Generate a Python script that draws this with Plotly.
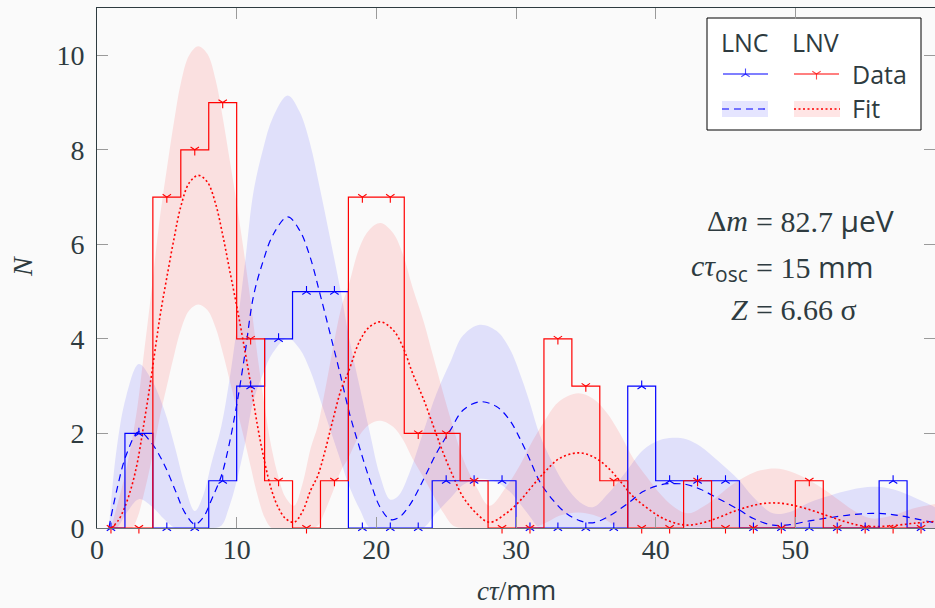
import plotly.graph_objects as go

# ---------------- data ----------------
bin_centers = [1, 3, 5, 7, 9, 11, 13, 15, 17, 19, 21, 23, 25, 27, 29,
               31, 33, 35, 37, 39, 41, 43, 45, 47, 49, 51, 53, 55, 57, 59]
lnc_counts = [0, 2, 0, 0, 1, 3, 4, 5, 5, 0, 0, 0, 1, 1, 1,
              0, 0, 0, 0, 3, 1, 1, 1, 0, 0, 0, 0, 0, 1, 0]
lnv_counts = [0, 0, 7, 8, 9, 4, 1, 0, 1, 7, 7, 2, 2, 1, 0,
              0, 4, 3, 1, 0, 0, 1, 0, 0, 0, 1, 0, 0, 0, 0]

lnc_fit_x = [0.85, 1.4, 2.1, 3.0, 3.9, 4.8, 5.6, 6.3, 7.0, 7.6, 8.2, 8.9, 9.45, 10.0,
             10.6, 11.2, 11.9, 12.6, 13.65, 14.5, 15.25, 15.95, 16.7, 17.4, 18.1, 18.8,
             19.55, 20.25, 21.0, 21.6, 22.4, 23.35, 24.3, 25.3, 26.2, 27.4, 28.6, 29.55,
             30.4, 31.0, 31.7, 32.65, 33.6, 34.6, 35.5, 36.6, 38.0, 39.1, 40.3, 41.2,
             42.2, 43.2, 44.5, 46.0, 47.0, 48.4, 49.6, 51.0, 52.5, 54.0, 55.5, 56.5,
             57.5, 59.0, 60.0]
lnc_fit = [0.00, 0.78, 1.55, 2.04, 1.80, 1.35, 0.80, 0.32, 0.08, 0.22, 0.60, 1.10, 1.75, 2.60,
           3.70, 4.90, 5.65, 6.20, 6.58, 6.30, 5.74, 4.97, 4.10, 3.27, 2.40, 1.70,
           1.00, 0.45, 0.18, 0.22, 0.49, 1.01, 1.58, 2.07, 2.49, 2.67, 2.57, 2.28,
           1.82, 1.44, 0.98, 0.59, 0.31, 0.15, 0.11, 0.24, 0.52, 0.77, 0.91, 0.94,
           0.92, 0.82, 0.62, 0.38, 0.20, 0.06, 0.07, 0.15, 0.22, 0.28, 0.31, 0.30,
           0.26, 0.17, 0.11]
lnc_band_hi = [0.00, 1.66, 2.80, 3.47, 3.14, 2.51, 1.69, 0.89, 0.36, 0.69, 1.38, 2.15, 3.07, 4.21,
               5.62, 7.11, 8.03, 8.69, 9.15, 8.81, 8.14, 7.20, 6.12, 5.08, 3.95, 3.00,
               2.00, 1.12, 0.60, 0.69, 1.19, 2.02, 2.84, 3.51, 4.07, 4.30, 4.17, 3.79,
               3.17, 2.64, 1.97, 1.36, 0.87, 0.54, 0.44, 0.73, 1.24, 1.65, 1.86, 1.91,
               1.88, 1.73, 1.41, 1.00, 0.65, 0.31, 0.34, 0.54, 0.69, 0.81, 0.87, 0.85,
               0.77, 0.58, 0.44]
lnc_band_lo = [0.00, 0.00, 0.31, 0.61, 0.46, 0.19, 0.00, 0.00, 0.00, 0.00, 0.00, 0.05, 0.43, 0.99,
               1.78, 2.69, 3.27, 3.71, 4.02, 3.79, 3.34, 2.74, 2.08, 1.46, 0.85, 0.40,
               0.00, 0.00, 0.00, 0.00, 0.00, 0.00, 0.32, 0.63, 0.91, 1.04, 0.97, 0.77,
               0.47, 0.24, 0.00, 0.00, 0.00, 0.00, 0.00, 0.00, 0.00, 0.00, 0.00, 0.00,
               0.00, 0.00, 0.00, 0.00, 0.00, 0.00, 0.00, 0.00, 0.00, 0.00, 0.00, 0.00,
               0.00, 0.00, 0.00]

lnv_fit_x = [1.0, 1.5, 2.0, 2.5, 2.9, 3.3, 3.8, 4.2, 4.55, 5.0, 5.5, 6.0, 6.6, 7.25,
             7.9, 8.5, 9.0, 9.5, 10.0, 10.5, 11.0, 11.5, 12.0, 12.5, 13.0, 13.5, 14.1,
             14.7, 15.3, 15.8, 16.3, 16.9, 17.5, 18.0, 18.8, 19.5, 20.3, 21.2, 21.9,
             22.6, 23.4, 24.1, 24.8, 25.5, 26.2, 27.2, 28.1, 29.3, 30.3, 31.2, 32.2,
             33.1, 34.45, 35.5, 36.5, 37.4, 38.4, 39.4, 40.3, 41.2, 42.3, 43.5, 44.5,
             45.5, 46.5, 47.5, 48.6, 49.7, 51.0, 52.2, 53.5, 54.5, 55.5, 57.0, 58.5, 60.0]
lnv_fit = [0.00, 0.15, 0.45, 0.90, 1.40, 2.10, 3.03, 3.85, 4.55, 5.30, 6.10, 6.80, 7.30, 7.46,
           7.32, 6.85, 6.20, 5.45, 4.70, 3.90, 3.05, 2.15, 1.40, 0.80, 0.42, 0.20, 0.12,
           0.34, 0.80, 1.10, 1.60, 2.30, 2.95, 3.30, 3.95, 4.25, 4.36, 4.19, 3.83,
           3.27, 2.71, 2.14, 1.58, 1.09, 0.66, 0.30, 0.12, 0.31, 0.58, 0.90, 1.23,
           1.47, 1.59, 1.51, 1.30, 1.01, 0.66, 0.42, 0.24, 0.12, 0.06, 0.12, 0.22,
           0.34, 0.44, 0.51, 0.53, 0.49, 0.39, 0.27, 0.14, 0.06, 0.03, 0.05, 0.10, 0.14]
lnv_band_hi = [0.00, 0.54, 1.12, 1.85, 2.58, 3.55, 4.77, 5.81, 6.68, 7.60, 8.57, 9.41, 10.00, 10.19,
               10.03, 9.47, 8.69, 7.79, 6.87, 5.88, 4.80, 3.62, 2.58, 1.69, 1.07, 0.65, 0.47,
               0.92, 1.69, 2.15, 2.87, 3.82, 4.67, 5.12, 5.94, 6.31, 6.45, 6.24, 5.79,
               5.08, 4.36, 3.60, 2.84, 2.13, 1.47, 0.85, 0.47, 0.87, 1.34, 1.85, 2.34,
               2.68, 2.85, 2.74, 2.44, 2.02, 1.47, 1.07, 0.73, 0.47, 0.31, 0.47, 0.69,
               0.92, 1.10, 1.22, 1.26, 1.19, 1.01, 0.79, 0.51, 0.31, 0.20, 0.27, 0.42, 0.51]
lnv_band_lo = [0.00, 0.00, 0.00, 0.00, 0.22, 0.65, 1.29, 1.89, 2.42, 3.00, 3.63, 4.19, 4.60, 4.73,
               4.61, 4.23, 3.71, 3.12, 2.53, 1.93, 1.30, 0.68, 0.22, 0.00, 0.00, 0.00, 0.00,
               0.00, 0.00, 0.05, 0.34, 0.78, 1.23, 1.48, 1.96, 2.19, 2.27, 2.14, 1.87,
               1.46, 1.06, 0.68, 0.32, 0.05, 0.00, 0.00, 0.00, 0.00, 0.00, 0.00, 0.12,
               0.26, 0.33, 0.28, 0.16, 0.00, 0.00, 0.00, 0.00, 0.00, 0.00, 0.00, 0.00,
               0.00, 0.00, 0.00, 0.00, 0.00, 0.00, 0.00, 0.00, 0.00, 0.00, 0.00, 0.00, 0.00]

x_ticks = [0, 10, 20, 30, 40, 50]
y_ticks = [0, 2, 4, 6, 8, 10]
x_range = [0, 60]
y_range = [0, 11]

# ---------------- style ----------------
W, H = 935, 608
L, R, T, B = 97, 935, 8, 528
BG = "#fafafa"
TXT = "#2e3b40"
BLUE = "#0000ff"
RED = "#ff0000"
BLUE_FILL = "rgba(0,0,255,0.10)"
RED_FILL = "rgba(255,0,0,0.10)"
SERIF = "Liberation Serif"
SANS = "Open Sans"


def px(xp):
    return (xp - L) / (R - L)


def py(yp):
    return (B - yp) / (B - T)


fig = go.Figure()

# bands
fig.add_trace(go.Scatter(x=lnc_fit_x, y=lnc_band_lo, mode="lines", line=dict(width=0, shape="spline"),
                         hoverinfo="skip", showlegend=False))
fig.add_trace(go.Scatter(x=lnc_fit_x, y=lnc_band_hi, mode="lines", line=dict(width=0, shape="spline"),
                         fill="tonexty", fillcolor=BLUE_FILL, hoverinfo="skip", showlegend=False))
fig.add_trace(go.Scatter(x=lnv_fit_x, y=lnv_band_lo, mode="lines", line=dict(width=0, shape="spline"),
                         hoverinfo="skip", showlegend=False))
fig.add_trace(go.Scatter(x=lnv_fit_x, y=lnv_band_hi, mode="lines", line=dict(width=0, shape="spline"),
                         fill="tonexty", fillcolor=RED_FILL, hoverinfo="skip", showlegend=False))

# fits
fig.add_trace(go.Scatter(x=lnc_fit_x, y=lnc_fit, mode="lines",
                         line=dict(color=BLUE, width=1.2, dash="7px,5px", shape="spline"),
                         showlegend=False))
fig.add_trace(go.Scatter(x=lnv_fit_x, y=lnv_fit, mode="lines",
                         line=dict(color=RED, width=1.6, dash="2px,2.5px", shape="spline"),
                         showlegend=False))

# data steps
fig.add_trace(go.Scatter(x=bin_centers, y=lnc_counts, mode="lines+markers",
                         line=dict(color=BLUE, width=1.2, shape="hvh"),
                         marker=dict(symbol="y-up", size=7, line=dict(color=BLUE, width=1.1)),
                         cliponaxis=False, showlegend=False))
fig.add_trace(go.Scatter(x=bin_centers, y=lnv_counts, mode="lines+markers",
                         line=dict(color=RED, width=1.2, shape="hvh"),
                         marker=dict(symbol="y-down", size=7, line=dict(color=RED, width=1.1)),
                         cliponaxis=False, showlegend=False))

# mirrored-tick axes (empty trace to create subplot)
fig.add_trace(go.Scatter(x=[None], y=[None], xaxis="x2", yaxis="y2", showlegend=False, hoverinfo="skip"))

# ---- custom legend on an overlay axis pair spanning the plot area (0..1) ----
lx = dict(xaxis="x3", yaxis="y3", showlegend=False, hoverinfo="skip")
bx0, bx1, by0, by1 = px(707), px(921), py(130), py(18)
fig.add_trace(go.Scatter(x=[bx0, bx1, bx1, bx0, bx0], y=[by0, by0, by1, by1, by0], mode="lines",
                         fill="toself", fillcolor="#ffffff", line=dict(color="#000000", width=1), **lx))
for xa, xb, col in [(722, 768, BLUE_FILL), (794, 840, RED_FILL)]:
    fig.add_trace(go.Scatter(x=[px(xa), px(xb), px(xb), px(xa), px(xa)],
                             y=[py(117), py(117), py(101), py(101), py(117)], mode="lines",
                             fill="toself", fillcolor=col, line=dict(width=0), **lx))
fig.add_trace(go.Scatter(x=[px(722), px(768)], y=[py(109), py(109)], mode="lines",
                         line=dict(color=BLUE, width=1.2, dash="7px,5px"), **lx))
fig.add_trace(go.Scatter(x=[px(794), px(840)], y=[py(109), py(109)], mode="lines",
                         line=dict(color=RED, width=1.6, dash="2px,2.5px"), **lx))
fig.add_trace(go.Scatter(x=[px(723), px(745.5), px(768)], y=[py(74)] * 3, mode="lines+markers",
                         line=dict(color=BLUE, width=1.2),
                         marker=dict(symbol="y-up", size=[0, 7, 0], line=dict(color=BLUE, width=1.1)), **lx))
fig.add_trace(go.Scatter(x=[px(794), px(816.5), px(839)], y=[py(74)] * 3, mode="lines+markers",
                         line=dict(color=RED, width=1.2),
                         marker=dict(symbol="y-down", size=[0, 7, 0], line=dict(color=RED, width=1.1)), **lx))

annotations = []


def ann(text, xp, yp, xanchor="left", size=25, family=SANS, **kw):
    annotations.append(dict(text=text, x=px(xp), y=py(yp), xref="paper", yref="paper",
                            xanchor=xanchor, yanchor="middle", showarrow=False,
                            font=dict(family=family, size=size, color=TXT), **kw))


# legend texts
ann("LNC", 719, 42)
ann("LNV", 790, 42)
ann("Data", 850, 74)
ann("Fit", 850, 108)

# parameter box
S = "<span style='font-family:%s'>%s</span>"
ann("Δ<i>m</i>", 750, 220, xanchor="right", size=30, family=SERIF)
ann("= 82.7 " + S % (SANS, "μeV"), 754, 220, size=30, family=SERIF)
ann("<i>cτ</i>" + S % (SANS, "<sub>osc</sub>"), 750, 268, xanchor="right", size=30, family=SERIF)
ann("= 15 " + S % (SANS, "mm"), 754, 266, size=30, family=SERIF)
ann("<i>Z</i>", 750, 310, xanchor="right", size=30, family=SERIF)
ann("= 6.66 σ", 754, 310, size=30, family=SERIF)

# axis titles
ann("<i>cτ</i>/" + S % (SANS, "mm"), 516, 589, xanchor="center", size=27, family=SERIF)
ann("<i>N</i>", 22, 267, xanchor="center", size=28, family=SERIF, textangle=-90)

tick_common = dict(ticks="inside", ticklen=11, tickcolor="#9a9a9a", tickwidth=1,
                   showgrid=False, zeroline=False)

fig.update_layout(
    width=W, height=H,
    margin=dict(l=L, r=W - R, t=T, b=H - B, pad=0),
    paper_bgcolor=BG, plot_bgcolor=BG,
    showlegend=False,
    font=dict(family=SERIF, size=28, color=TXT),
    annotations=annotations,
    xaxis=dict(range=x_range, tickvals=x_ticks, showline=True, linecolor="#6b7275", linewidth=1,
               tickfont=dict(family=SERIF, size=28, color=TXT), ticklabelstandoff=-4, **tick_common),
    yaxis=dict(range=y_range, tickvals=y_ticks, showline=True, linecolor="#2e3b40", linewidth=1,
               tickfont=dict(family=SERIF, size=28, color=TXT), ticklabelstandoff=6, **tick_common),
    xaxis2=dict(range=x_range, tickvals=x_ticks, overlaying="x", side="top", anchor="y",
                showline=True, linecolor="#2e3b40", linewidth=1, showticklabels=False, **tick_common),
    yaxis2=dict(range=y_range, tickvals=y_ticks, overlaying="y", side="right", anchor="x",
                showline=False, showticklabels=False, **tick_common),
    xaxis3=dict(range=[0, 1], overlaying="x", visible=False, fixedrange=True),
    yaxis3=dict(range=[0, 1], overlaying="y", visible=False, fixedrange=True),
)

fig.write_html(
    "out.html",
    config={"displayModeBar": False},
    post_script="document.body.style.margin='0px';document.body.style.background='#fafafa';",
)
